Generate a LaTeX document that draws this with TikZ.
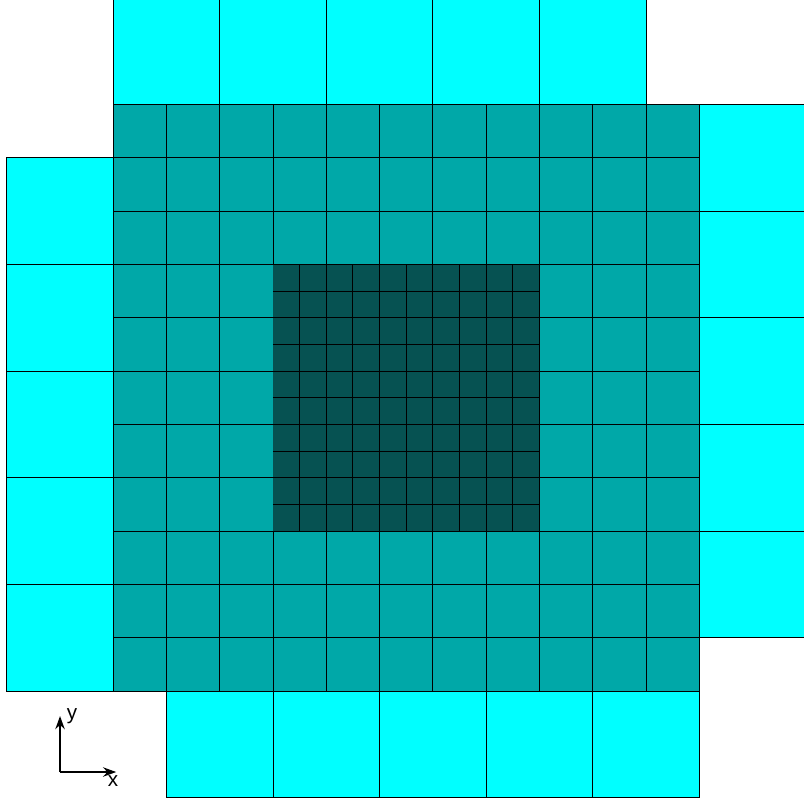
\documentclass[tikz,border=0pt]{standalone}
\usepackage{fontspec}
\setmainfont{Liberation Sans}
\usetikzlibrary{arrows.meta}
\definecolor{coarse}{RGB}{0, 255, 255}
\definecolor{mid}{RGB}{0, 168, 168}
\definecolor{fine}{RGB}{6, 82, 82}

\begin{document}
\begin{tikzpicture}
  \useasboundingbox (-2.12, -2.08) rectangle (12.96, 12.96);
  \clip (-2.12, -2.08) rectangle (12.96, 12.96);

  % Coarse level, top
  \foreach \x in {0, 2, ..., 8} {
    \draw[fill=coarse, line width=0.5] (\x, 11) rectangle ++(2, 2);
  }

  % Coarse level, right
  \foreach \y in {1, 3, ..., 9} {
    \draw[fill=coarse, line width=0.5] (11, \y) rectangle ++(2, 2);
  }

  % Coarse level, bottom
  \foreach \x in {1, 3, ..., 9} {
    \draw[fill=coarse, line width=0.5] (\x, -2) rectangle ++(2, 2);
  }

  % Coarse level, left
  \foreach \y in {0, 2, ..., 8} {
    \draw[fill=coarse, line width=0.5] (-2, \y) rectangle ++(2, 2);
  }

  % Middle level
  \fill[mid] (0, 0) rectangle (11, 11);
  \draw[line width=0.5, step=1] (0, 0) grid (11, 11);

  % Fine level
  \fill[fine] (3, 3) rectangle (8, 8);
  \draw[line width=0.5, step=0.5] (3, 3) grid (8, 8);

  % Axes
  \coordinate (origin) at (-0.994, -1.52);
  \coordinate (xtip) at (0.06, -1.52);
  \coordinate (ytip) at (-0.994, -0.47);
  \draw[-{Stealth[length=7pt, width=5pt]}, line width=1] (origin) -- (xtip);
  \draw[-{Stealth[length=7pt, width=5pt]}, line width=1] (origin) -- (ytip);
  \node[font=\fontsize{11}{13}\selectfont] (xlabel) at (0.0, -1.69) {x};
  \node[font=\fontsize{11}{13}\selectfont] (ylabel) at (-0.77, -0.47) {y};

\end{tikzpicture}
\end{document}
